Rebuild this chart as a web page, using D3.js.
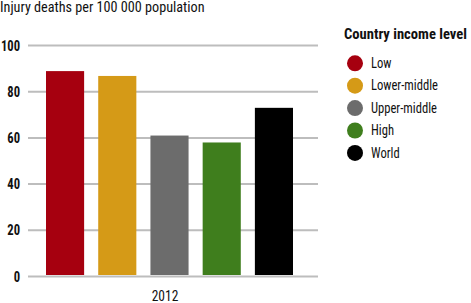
<!DOCTYPE html>
<head>
  <meta charset="utf-8">
  <title>Injury deaths by income level</title>
  <style>
    body { margin: 0; background: #fff; }
    text { font-family: "Roboto Condensed", sans-serif; fill: #111; }
    .grid line { stroke: #bdbdbd; stroke-width: 2; }
    .grid .domain { display: none; }
  </style>
</head>
<body>
  <div id="chart"></div>
  <script src="https://d3js.org/d3.v7.min.js"></script>
  <script>
    const categories = ['Low', 'Lower-middle', 'Upper-middle', 'High', 'World'];
    const values = [88.7, 86.6, 60.8, 57.8, 72.8];
    const colors = ['#a6000f', '#d59a17', '#6c6c6c', '#3f7e1d', '#000000'];
    const yTicks = [0, 20, 40, 60, 80, 100];
    const year = '2012';

    const W = 471, H = 303;
    let margin = { top: 45, left: 28, bottom: 27 },
      plotW = 290,
      height = H - margin.top - margin.bottom;

    // condensed look: squeeze text horizontally
    function narrow(sel, x, y, sx) {
      return sel.attr('x', null).attr('y', null)
        .attr('transform', `translate(${x}, ${y}) scale(${sx}, 1)`);
    }

    let svg = d3.select('#chart').append('svg')
      .attr('width', W).attr('height', H);

    svg.append('text')
      .style('font-size', '14.2px')
      .call(narrow, 0, 12, 1)
      .text('Injury deaths per 100 000 population');

    let g = svg.append('g')
      .attr('transform', `translate(${margin.left}, ${margin.top})`);

    let y = d3.scaleLinear().domain([0, 100]).range([height, 0]);

    let x = d3.scaleBand().domain(categories)
      .range([18, 265]).paddingInner(0.27).paddingOuter(0);

    // gridlines + labels
    let axis = g.append('g').attr('class', 'grid')
      .call(d3.axisLeft(y).tickValues(yTicks).tickSize(-plotW));
    axis.selectAll('.tick text')
      .attr('dy', null)
      .style('font-size', '14px').style('font-weight', 'bold')
      .call(narrow, -8, 5, 0.9);

    g.selectAll('rect.bar')
      .data(values)
      .join('rect')
      .attr('class', 'bar')
      .attr('x', (d, i) => x(categories[i]))
      .attr('width', x.bandwidth())
      .attr('y', d => y(d))
      .attr('height', d => height - y(d) - 1)
      .attr('fill', (d, i) => colors[i]);

    g.append('text')
      .attr('text-anchor', 'middle')
      .style('font-size', '15px')
      .call(narrow, 137, height + 25, 0.9)
      .text(year);

    // legend
    let legend = svg.append('g').attr('transform', 'translate(344, 0)');
    legend.append('text')
      .style('font-size', '14.6px').style('font-weight', 'bold')
      .call(narrow, 0, 39, 1)
      .text('Country income level');

    let items = legend.selectAll('g.item')
      .data(categories)
      .join('g')
      .attr('class', 'item')
      .attr('transform', (d, i) => `translate(0, ${63.3 + i * 22.4})`);
    items.append('circle')
      .attr('cx', 11).attr('cy', 0).attr('r', 8)
      .attr('fill', (d, i) => colors[i]);
    items.append('text')
      .style('font-size', '14px')
      .call(narrow, 27, 4.6, 0.9)
      .text(d => d);
  </script>
</body>
</html>
